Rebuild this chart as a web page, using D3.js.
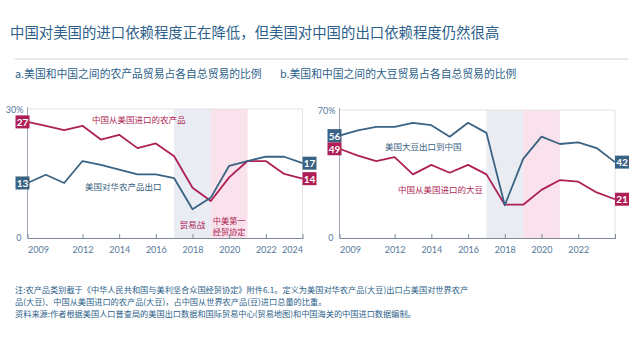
<!DOCTYPE html>
<html><head><meta charset="utf-8">
<script src="https://cdn.jsdelivr.net/npm/d3@7"></script>
<style>
html,body{margin:0;padding:0;background:#fff;}
svg{display:block;font-family:"Noto Sans CJK SC","Noto Sans",sans-serif;}
</style></head><body>
<svg id="c" width="640" height="360"></svg>
<script>
// ---------- data ----------
const years = [2009,2010,2011,2012,2013,2014,2015,2016,2017,2018,2019,2020,2021,2022,2023,2024];
// Panel a: agricultural products (%)
const agChinaImports = [27,26.1,25.1,26.1,22.9,24.0,20.9,22.0,19.0,11.7,8.6,14.1,17.9,17.9,14.9,13.8];
const agUSExports    = [12.8,14.7,12.8,17.9,17.0,15.9,14.8,14.8,13.9,6.7,9.4,16.8,17.9,18.9,18.9,17.4];
// Panel b: soybeans (%)
const soyUSExports    = [56,58.9,60.8,60.8,63.0,61.7,55.4,63.0,57.5,17.9,43.3,55.4,51.4,52.3,49.2,41.5];
const soyChinaImports = [48.8,45.1,42.0,44.2,34.8,40.0,35.7,40.0,34.8,18.2,18.2,26.3,31.7,30.8,24.9,21.2];
// labels
const agStartLabels = ["27","13"], agEndLabels = ["14","17"];
const soyStartLabels = ["49","56"], soyEndLabels = ["21","42"];
const xTicksA = [2009,2012,2014,2016,2018,2020,2022,2024];
const xTickLabelsA = ["2009","2012","2014","2016","2018","2020","2022","2024"];
const xTicksB = [2009,2012,2014,2016,2018,2020,2022,2024];
const xTickLabelsB = ["2009","2012","2014","2016","2018","2020","2022",""];
const yMaxA = 30, yMaxB = 70;
const tradeWar = [2017,2019], agreement = [2019,2021];

const RED = "#ad1f56", BLUE = "#3a6282", TXT = "#2d5f8a", AX = "#55779a";

const svg = d3.select("#c");
svg.append("text").attr("x",10).attr("y",31).attr("dominant-baseline","central")
  .attr("font-size",14.4).attr("fill",TXT)
  .text("中国对美国的进口依赖程度正在降低，但美国对中国的出口依赖程度仍然很高");
svg.append("line").attr("x1",15).attr("x2",628).attr("y1",59).attr("y2",59)
  .attr("stroke","#cfcfcf").attr("stroke-width",1);
svg.append("text").attr("x",15).attr("y",73).attr("dominant-baseline","central")
  .attr("font-size",10.8).attr("fill",TXT).text("a.美国和中国之间的农产品贸易占各自总贸易的比例");
svg.append("text").attr("x",280).attr("y",73).attr("dominant-baseline","central")
  .attr("font-size",10.8).attr("fill",TXT).text("b.美国和中国之间的大豆贸易占各自总贸易的比例");

function panel(opt){
  const x = d3.scaleLinear().domain([2009,2024]).range([opt.x0,opt.x1]);
  const y = d3.scaleLinear().domain([0,opt.ymax]).range([238,opt.yTop]);
  const g = svg.append("g");
  // shading
  g.append("rect").attr("x",x(tradeWar[0])).attr("width",x(tradeWar[1])-x(tradeWar[0]))
    .attr("y",y(opt.ymax)).attr("height",y(0)-y(opt.ymax)).attr("fill","#e9edf3");
  g.append("rect").attr("x",x(agreement[0])).attr("width",x(agreement[1])-x(agreement[0]))
    .attr("y",y(opt.ymax)).attr("height",y(0)-y(opt.ymax)).attr("fill","#f9e2eb");
  // frame
  g.append("path").attr("d",`M${x(2009)},${y(opt.ymax)}H${x(2024)}V${y(0)}`)
    .attr("fill","none").attr("stroke","#e2e2e2");
  g.append("line").attr("x1",x(2009)).attr("x2",x(2009)).attr("y1",y(opt.ymax)-2).attr("y2",y(0))
    .attr("stroke","#9aa6b2");
  // x axis
  const xa = d3.axisBottom(x).tickValues(opt.ticks).tickSize(0).tickFormat((d,i)=>opt.tickLabels[i]);
  const ax = g.append("g").attr("transform",`translate(0,${y(0)})`).call(xa);
  ax.select(".domain").attr("stroke","#7d8a96");
  ax.selectAll(".tick line").remove();
  ax.selectAll(".tick").append("line").attr("y1",-4).attr("y2",1).attr("stroke","#7d8a96");
  ax.selectAll(".tick text").attr("dy",0).attr("y",11).attr("dominant-baseline","central")
    .attr("font-size",9).attr("fill",AX).attr("font-family","Lato,'Noto Sans',sans-serif")
    .attr("text-anchor",(d,i)=> i===0 ? "start" : (i===opt.ticks.length-1 && opt.lastEnd ? "end" : "middle"));
  // y labels
  g.append("text").attr("x",x(2009)-4).attr("y",y(opt.ymax)).attr("text-anchor","end")
    .attr("dominant-baseline","central").attr("font-size",9).attr("fill",AX)
    .attr("font-family","Lato,'Noto Sans',sans-serif").text(opt.ymax+"%");
  g.append("text").attr("x",x(2009)-6).attr("y",y(0)-1).attr("text-anchor","end")
    .attr("dominant-baseline","central").attr("font-size",9).attr("fill",AX)
    .attr("font-family","Lato,'Noto Sans',sans-serif").text("0");
  // lines
  const line = d3.line().x((d,i)=>x(years[i])).y(d=>y(d));
  opt.series.forEach(s=>{
    g.append("path").datum(s.values).attr("d",line).attr("fill","none")
      .attr("stroke",s.color).attr("stroke-width",1.8).attr("stroke-linejoin","round");
  });
  // value boxes
  opt.series.forEach(s=>{
    const v0 = s.values[0], v1 = s.values[s.values.length-1];
    [[x(2009)-14+2, v0, s.start],[x(2024), v1, s.end]].forEach(([bx,v,lab])=>{
      if(!lab) return;
      g.append("rect").attr("x",bx).attr("y",y(v)-6.5).attr("width",14).attr("height",13).attr("fill",s.color);
      g.append("text").attr("x",bx+7).attr("y",y(v)).attr("text-anchor","middle")
        .attr("dominant-baseline","central").attr("font-size",10).attr("font-weight","bold")
        .attr("fill","#fff").attr("font-family","Lato,'Noto Sans',sans-serif").text(lab);
    });
  });
  // series names
  opt.names.forEach(n=>{
    g.append("text").attr("x",n.x).attr("y",n.y).attr("dominant-baseline","central")
      .attr("font-size",8.5).attr("fill",n.color).text(n.text);
  });
  return {x,y,g};
}

const pa = panel({x0:27.5,x1:302.5,yTop:109,ymax:yMaxA,ticks:xTicksA,tickLabels:xTickLabelsA,lastEnd:true,
  series:[{values:agChinaImports,color:RED,start:agStartLabels[0],end:agEndLabels[0]},
          {values:agUSExports,color:BLUE,start:agStartLabels[1],end:agEndLabels[1]}],
  names:[{x:92,y:119,text:"中国从美国进口的农产品",color:RED},
         {x:85,y:186,text:"美国对华农产品出口",color:BLUE}]});
const pb = panel({x0:339.5,x1:615,yTop:110,ymax:yMaxB,ticks:xTicksB,tickLabels:xTickLabelsB,lastEnd:false,
  series:[{values:soyChinaImports,color:RED,start:soyStartLabels[0],end:soyEndLabels[0]},
          {values:soyUSExports,color:BLUE,start:soyStartLabels[1],end:soyEndLabels[1]}],
  names:[{x:385,y:146,text:"美国大豆出口到中国",color:BLUE},
         {x:398,y:189,text:"中国从美国进口的大豆",color:RED}]});

// annotations in panel a
pa.g.append("text").attr("x",pa.x(2018)).attr("y",224).attr("text-anchor","middle")
  .attr("dominant-baseline","central").attr("font-size",8.5).attr("fill",RED).text("贸易战");
pa.g.append("text").attr("x",pa.x(2020)).attr("y",219.5).attr("text-anchor","middle")
  .attr("dominant-baseline","central").attr("font-size",8.2).attr("fill",RED).text("中美第一");
pa.g.append("text").attr("x",pa.x(2020)).attr("y",231).attr("text-anchor","middle")
  .attr("dominant-baseline","central").attr("font-size",8.2).attr("fill",RED).text("经贸协定");

// footer
const foot = [
 "注:农产品类别截于《中华人民共和国与美利坚合众国经贸协定》附件6.1。定义为美国对华农产品(大豆)出口占美国对世界农产",
 "品(大豆)、中国从美国进口的农产品(大豆)，占中国从世界农产品(豆)进口总量的比重。",
 "资料来源:作者根据美国人口普查局的美国出口数据和国际贸易中心(贸易地图)和中国海关的中国进口数据编制。"];
const fy = [289,301,313];
foot.forEach((t,i)=>svg.append("text").attr("x",15).attr("y",fy[i]).attr("dominant-baseline","central")
  .attr("font-size",8.2).attr("fill",TXT).text(t));
</script></body></html>
